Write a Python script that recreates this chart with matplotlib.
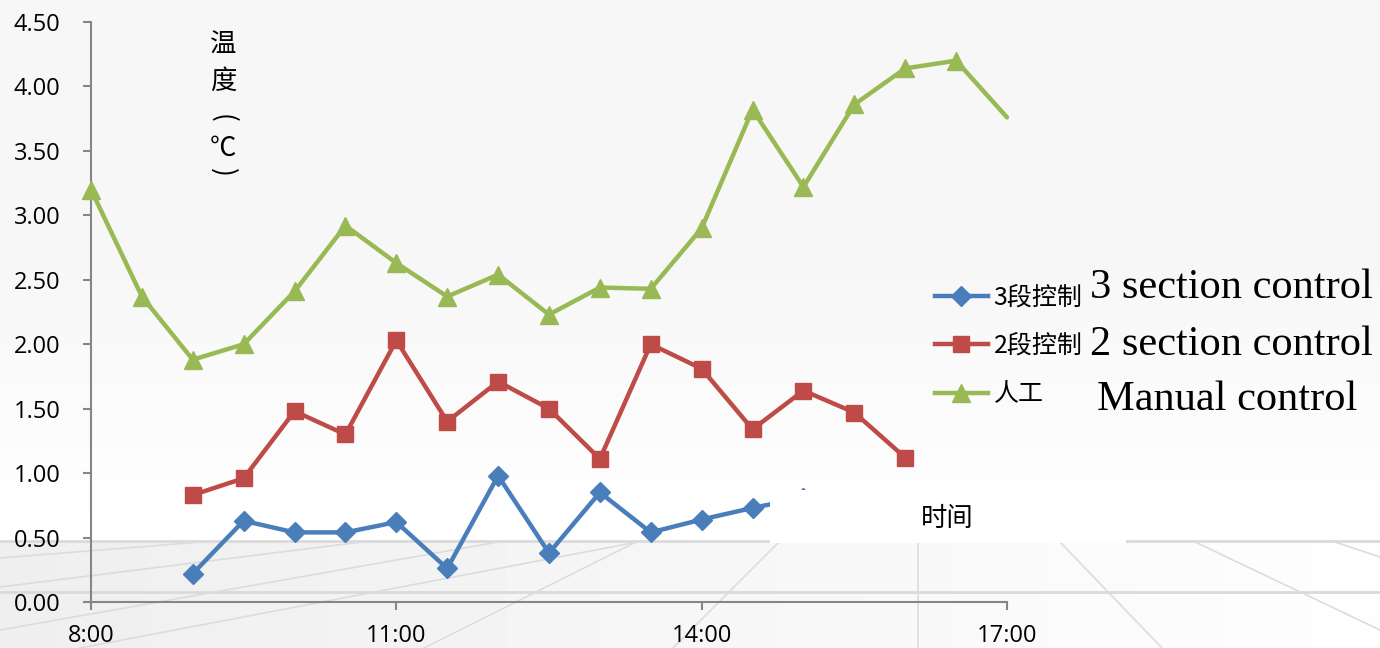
import matplotlib
matplotlib.use('Agg')
import numpy as np
import matplotlib.pyplot as plt
from matplotlib.patches import Rectangle
from matplotlib.lines import Line2D

# readings every half hour
times = ['8:00', '8:30', '9:00', '9:30', '10:00', '10:30', '11:00', '11:30', '12:00',
         '12:30', '13:00', '13:30', '14:00', '14:30', '15:00', '15:30', '16:00',
         '16:30', '17:00']
manual = [3.20, 2.37, 1.88, 2.00, 2.41, 2.92, 2.63, 2.37, 2.54, 2.23, 2.44, 2.43,
          2.90, 3.82, 3.22, 3.86, 4.14, 4.20, 3.76]
# 2 and 3 section control start at 9:00
two_section = [0.83, 0.96, 1.48, 1.30, 2.03, 1.40, 1.71, 1.50, 1.11, 2.00, 1.81,
               1.34, 1.64, 1.47, 1.12]
three_section = [0.22, 0.63, 0.54, 0.54, 0.62, 0.26, 0.98, 0.38, 0.85, 0.54, 0.64,
                 0.73, 0.81]
x_ticks = ['8:00', '11:00', '14:00', '17:00']
y_ticks = [0.0, 0.5, 1.0, 1.5, 2.0, 2.5, 3.0, 3.5, 4.0, 4.5]

labels_cn = ['3段控制', '2段控制', '人工']
labels_en = ['3 section control', '2 section control', 'Manual control']


def to_hours(t):
    h, m = t.split(':')
    return int(h) + int(m) / 60.0


hours = np.array([to_hours(t) for t in times])
W, H = 1380, 648
fig = plt.figure(figsize=(W / 100, H / 100), dpi=100)

# background: soft gradient with a perspective floor at the bottom
bg = fig.add_axes([0, 0, 1, 1], zorder=0)
bg.set_xlim(0, W)
bg.set_ylim(H, 0)
bg.axis('off')
yy = np.linspace(0, H, 200)[:, None]
xx = np.linspace(0, W, 300)[None, :]
shade = np.where(yy < 541, 0.965 + 0.033 * np.clip((yy - 250) / 280, 0, 1),
                 0.935 + 0.06 * (xx / W) + 0.0 * yy)
shade = np.broadcast_to(shade, (200, 300))
bg.imshow(shade, cmap='gray', vmin=0, vmax=1, extent=[0, W, H, 0], aspect='auto')
for y in [541, 592]:
    bg.plot([0, W], [y, y], color='#dadada', lw=2.0)
floor_lines = [((0, 558), (214, 541)), ((0, 587), (370, 541)), ((0, 630), (504, 541)),
               ((80, 648), (643, 541)), ((424, 648), (638, 541)),
               ((780, 541), (673, 648)), ((918, 541), (918, 648)),
               ((1059, 541), (1162, 648)), ((1193, 541), (1380, 630)),
               ((1332, 541), (1380, 557))]
for (x0, y0), (x1, y1) in floor_lines:
    bg.plot([x0, x1], [y0, y1], color='#dcdcdc', lw=1.2)

ax = fig.add_axes([91 / W, 1 - 602 / H, (1007 - 91) / W, (602 - 22) / H], zorder=1)
ax.patch.set_alpha(0)

blue, red, green = '#4a7ebb', '#be4b48', '#98b954'
l3, = ax.plot(hours[2:2 + len(three_section)], three_section, color=blue, lw=3.2,
              marker='D', ms=10, clip_on=False, zorder=3)
l2, = ax.plot(hours[2:2 + len(two_section)], two_section, color=red, lw=3.2,
              marker='s', ms=12, clip_on=False, zorder=3)
l1, = ax.plot(hours, manual, color=green, lw=3.2, marker='^', ms=13,
              markevery=slice(0, len(manual) - 1), clip_on=False, zorder=3,
              solid_capstyle='round')

ax.set_xlim(8, 17)
ax.set_ylim(0, 4.5)
ax.set_xticks([to_hours(t) for t in x_ticks])
ax.set_xticklabels(x_ticks)
ax.set_yticks(y_ticks)
ax.set_yticklabels(['%.2f' % v for v in y_ticks])
for s in ['top', 'right']:
    ax.spines[s].set_visible(False)
for s in ['left', 'bottom']:
    ax.spines[s].set_color('#868686')
    ax.spines[s].set_linewidth(1.5)
ax.tick_params(axis='both', direction='out', length=6, width=1.5, color='#868686',
               labelsize=17)
ax.tick_params(axis='y', pad=16)
ax.tick_params(axis='x', pad=10)
for lab in ax.get_xticklabels() + ax.get_yticklabels():
    lab.set_fontfamily('Open Sans')

# white label box over the lower right of the plot
ax.add_patch(Rectangle((770 / W, 1 - 543 / H), (1126 - 770) / W, (543 - 490) / H,
                       transform=fig.transFigure, facecolor='white', edgecolor='none',
                       zorder=5, clip_on=False))
fig.text(947 / W, 1 - 518 / H, '时间', family='Noto Sans CJK SC', fontsize=19,
         ha='center', va='center', zorder=6)

# vertical axis title, one character per line
cjk = ['Noto Sans CJK SC', 'DejaVu Sans']
for ch, y, rot in [('温', 45, 0), ('度', 81, 0), ('(', 118, -90), ('℃', 148, 0),
                   (')', 172, -90)]:
    fig.text(223 / W, 1 - y / H, ch, family=cjk, fontsize=19, ha='center',
             va='center', rotation=rot)

handles = [Line2D([], [], color=blue, lw=3.2, marker='D', ms=10),
           Line2D([], [], color=red, lw=3.2, marker='s', ms=12),
           Line2D([], [], color=green, lw=3.2, marker='^', ms=13)]
leg = fig.legend(handles, labels_cn, loc='center left',
                 bbox_to_anchor=(935 / W, 1 - 346 / H), frameon=False,
                 prop={'family': 'Noto Sans CJK SC', 'size': 18},
                 handlelength=2.1, handletextpad=0.25, labelspacing=0.9,
                 borderpad=0, borderaxespad=0)
for txt, x, y in zip(labels_en, [1090, 1090, 1097], [298, 355, 410]):
    fig.text(x / W, 1 - y / H, txt, family='Liberation Serif', fontsize=30.5,
             ha='left', va='baseline')

fig.savefig('out.png', dpi=100)
